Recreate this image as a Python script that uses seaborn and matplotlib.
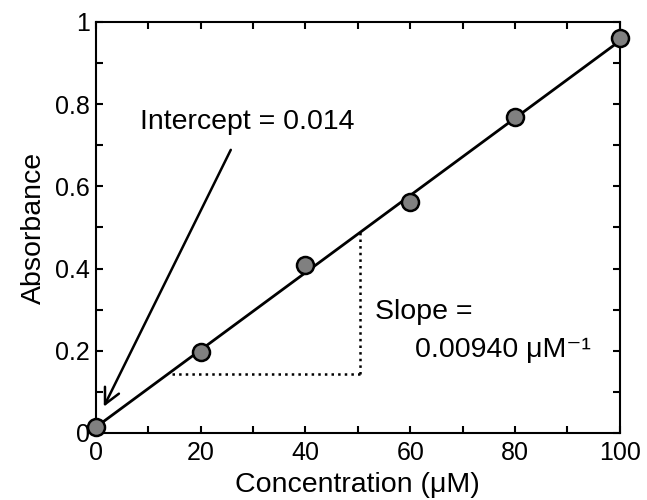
import matplotlib
matplotlib.use('Agg')
import matplotlib.pyplot as plt
from matplotlib.ticker import MultipleLocator, FormatStrFormatter
import numpy as np
import pandas as pd
import seaborn as sns

# Calibration data
concentration = [0, 20, 40, 60, 80, 100]
absorbance = [0.015, 0.196, 0.409, 0.562, 0.770, 0.962]

# Fit parameters (as labelled)
intercept = 0.014
slope = 0.0094

sns.set_style('ticks', {'axes.edgecolor': 'black', 'text.color': 'black',
                        'axes.labelcolor': 'black', 'xtick.color': 'black',
                        'ytick.color': 'black'})
plt.rcParams['font.family'] = ['Liberation Sans', 'DejaVu Sans']

df = pd.DataFrame({'Concentration': concentration, 'Absorbance': absorbance})
fit_x = np.array([0, 100])
fit_df = pd.DataFrame({'x': fit_x, 'y': intercept + slope * fit_x})

fig = plt.figure(figsize=(6.47, 5), dpi=100)
ax = fig.add_axes([0.148, 0.134, 0.810, 0.822])

sns.lineplot(x='x', y='y', data=fit_df, ax=ax, color='black', linewidth=2.0, zorder=2)
sns.scatterplot(x='Concentration', y='Absorbance', data=df, ax=ax, s=150,
                color='#808080', edgecolor='black', linewidth=1.8, zorder=3,
                clip_on=False)

# slope triangle
x1, x2 = 14.5, 50.5
y_base = 0.144
ax.plot([x1, x2], [y_base, y_base], color='black', linestyle=':', linewidth=1.8)
ax.plot([x2, x2], [y_base, intercept + slope * x2], color='black', linestyle=':', linewidth=1.8)

ax.annotate('', xy=(1.3, 0.058), xytext=(26, 0.695),
            arrowprops=dict(arrowstyle='->', color='black', lw=1.8,
                            mutation_scale=28))
ax.text(8.4, 0.757, 'Intercept = 0.014', fontsize=20.5, va='center', ha='left')
ax.text(53.2, 0.294, 'Slope =', fontsize=20.5, va='center', ha='left')
ax.text(60.9, 0.202, '0.00940 \u03bcM\u207b\u00b9', fontsize=20.5, va='center', ha='left')

ax.set_xlim(0, 100)
ax.set_ylim(0, 1)
ax.xaxis.set_major_locator(MultipleLocator(20))
ax.xaxis.set_minor_locator(MultipleLocator(10))
ax.yaxis.set_major_locator(MultipleLocator(0.2))
ax.yaxis.set_minor_locator(MultipleLocator(0.1))
ax.yaxis.set_major_formatter(FormatStrFormatter('%g'))
ax.tick_params(which='both', direction='in', top=True, right=True,
               length=5, width=1.5, labelsize=18, colors='black')
ax.tick_params(axis='x', pad=6)
ax.tick_params(axis='y', pad=4)
for sp in ax.spines.values():
    sp.set_linewidth(1.5)
    sp.set_color('black')
    sp.set_visible(True)

ax.set_xlabel('Concentration (\u03bcM)', fontsize=20.5, labelpad=5)
ax.set_ylabel('Absorbance', fontsize=20.5, labelpad=6)

fig.savefig('out.png', dpi=100)
plt.close()
